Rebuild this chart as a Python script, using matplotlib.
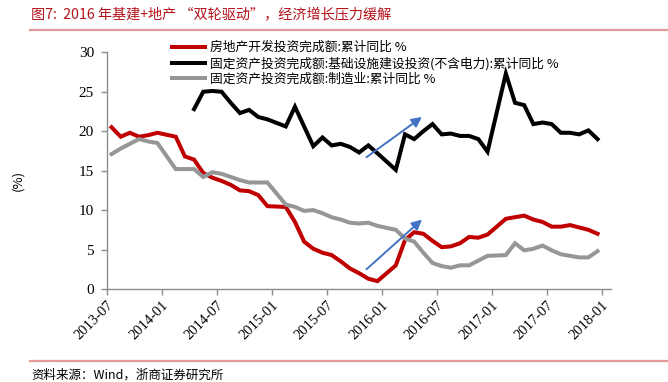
import matplotlib
matplotlib.use("Agg")
import matplotlib.pyplot as plt
from matplotlib.lines import Line2D

# ---------------- data ----------------
def months_excl_jan(start, end):
    out = []
    y, m = start
    while (y, m) <= end:
        if m != 1:
            out.append(f"{y}-{m:02d}")
        m += 1
        if m > 12:
            m = 1
            y += 1
    return out

months_all = months_excl_jan((2013, 7), (2017, 12))     # red & gray
months_infra = months_excl_jan((2014, 4), (2017, 12))   # black

real_estate = [20.5, 19.3, 19.8, 19.3, 19.5, 19.8,
               19.3, 16.8, 16.4, 14.7, 14.1, 13.7, 13.2, 12.5, 12.4, 11.9, 10.5,
               10.4, 8.5, 6.0, 5.1, 4.6, 4.3, 3.5, 2.6, 2.0, 1.3, 1.0,
               3.0, 6.2, 7.2, 7.0, 6.1, 5.3, 5.4, 5.8, 6.6, 6.5, 6.9,
               8.9, 9.1, 9.3, 8.8, 8.5, 7.9, 7.9, 8.1, 7.8, 7.5, 7.0]

infrastructure = [22.8, 25.0, 25.1, 25.0, 23.6, 22.3, 22.7, 21.8, 21.5,
                  20.6, 23.1, 20.6, 18.1, 19.2, 18.2, 18.4, 18.0, 17.3, 18.2, 17.2,
                  15.1, 19.6, 19.0, 20.0, 20.9, 19.6, 19.7, 19.4, 19.4, 19.0, 17.4,
                  27.3, 23.6, 23.3, 20.9, 21.1, 20.9, 19.8, 19.8, 19.6, 20.1, 19.0]

manufacturing = [17.1, 17.8, 18.4, 19.0, 18.7, 18.5,
                 15.2, 15.2, 15.2, 14.2, 14.8, 14.6, 14.2, 13.8, 13.5, 13.5, 13.5,
                 10.7, 10.4, 9.9, 10.0, 9.6, 9.1, 8.8, 8.4, 8.3, 8.4, 8.0,
                 7.5, 6.4, 6.0, 4.6, 3.3, 2.9, 2.7, 3.0, 3.0, 3.6, 4.2,
                 4.3, 5.8, 4.9, 5.1, 5.5, 4.9, 4.4, 4.2, 4.0, 4.0, 4.8]

tick_labels = ["2013-07", "2014-01", "2014-07", "2015-01", "2015-07",
               "2016-01", "2016-07", "2017-01", "2017-07", "2018-01"]

labels = ["房地产开发投资完成额:累计同比 %",
          "固定资产投资完成额:基础设施建设投资(不含电力):累计同比 %",
          "固定资产投资完成额:制造业:累计同比 %"]

title = "图7:  2016 年基建+地产 \u201c双轮驱动\u201d，经济增长压力缓解"
source = "资料来源：Wind，浙商证券研究所"

# arrows: (start month, start value) -> (end month, end value)
arrow_infra = (("2015-11", 16.7), ("2016-05", 21.8))
arrow_estate = (("2015-11", 2.5), ("2016-05", 8.8))

# ---------------- helpers ----------------
def midx(s, frac=0.55):
    y, m = map(int, s.split("-"))
    return (y - 2013) * 12 + (m - 7) + frac

CJK = ["Noto Sans CJK SC", "DejaVu Sans"]
SERIF = ["Liberation Serif", "Noto Sans CJK SC"]

W, H = 668, 382
fig = plt.figure(figsize=(W / 100, H / 100), dpi=100)

ax = fig.add_axes([106.5 / W, 1 - 289 / H, (611.4 - 106.5) / W, (289 - 52.3) / H])

red = "#C00000"
gray = "#969696"
lw = 2.9

ax.plot([midx(s) for s in months_all], real_estate, color=red, lw=lw,
        solid_joinstyle="miter", label=labels[0])
ax.plot([midx(s) for s in months_infra], infrastructure, color="black", lw=lw,
        solid_joinstyle="miter", label=labels[1])
ax.plot([midx(s) for s in months_all], manufacturing, color=gray, lw=lw,
        solid_joinstyle="miter", label=labels[2])

for (s0, v0), (s1, v1) in (arrow_infra, arrow_estate):
    ax.annotate("", xy=(midx(s1, 0.4), v1), xytext=(midx(s0, 0.35), v0),
                arrowprops=dict(arrowstyle="-|>", color="#4472C4", lw=1.4,
                                mutation_scale=15, shrinkA=0, shrinkB=0))

ax.set_xlim(0, 55.06)
ax.set_ylim(0, 30)
ax.set_yticks(range(0, 31, 5))
ax.set_xticks([midx(t, 0) for t in tick_labels])
ax.set_xticklabels(tick_labels, rotation=45, ha="right", va="top",
                   rotation_mode="anchor", family=SERIF, fontsize=10.5)
for lab in ax.get_yticklabels():
    lab.set_family(SERIF)
    lab.set_fontsize(11)

spine_c = "#8C8C8C"
for side in ("top", "right"):
    ax.spines[side].set_visible(False)
for side in ("left", "bottom"):
    ax.spines[side].set_color(spine_c)
    ax.spines[side].set_linewidth(1.0)
ax.tick_params(axis="both", direction="out", length=4, width=1.0, color=spine_c,
               labelcolor="black")
ax.tick_params(axis="x", pad=3)
ax.tick_params(axis="y", pad=5)

ax.legend(loc="upper left", bbox_to_anchor=(172 / W, 1 - 41 / H),
          bbox_transform=fig.transFigure, frameon=False,
          prop={"family": CJK, "size": 9.2}, handlelength=2.6,
          handletextpad=0.35, labelspacing=0.2, borderpad=0, borderaxespad=0)

fig.text(18 / W, 1 - 180 / H, "(%)", rotation=90, ha="center", va="center",
         family=CJK, fontsize=9.5)

fig.text(31 / W, 1 - 15 / H, title, ha="left", va="center", color="#B5121B",
         family=CJK, fontsize=10.2)
fig.add_artist(Line2D([30 / W, 1], [1 - 30 / H, 1 - 30 / H], color="#E39A9A",
                      lw=1.6, transform=fig.transFigure))
fig.add_artist(Line2D([30 / W, 1], [1 - 361 / H, 1 - 361 / H], color="#E39A9A",
                      lw=1.6, transform=fig.transFigure))
fig.text(31 / W, 1 - 375 / H, source, ha="left", va="center",
         family=CJK, fontsize=9)

fig.savefig("out.png", dpi=100)
